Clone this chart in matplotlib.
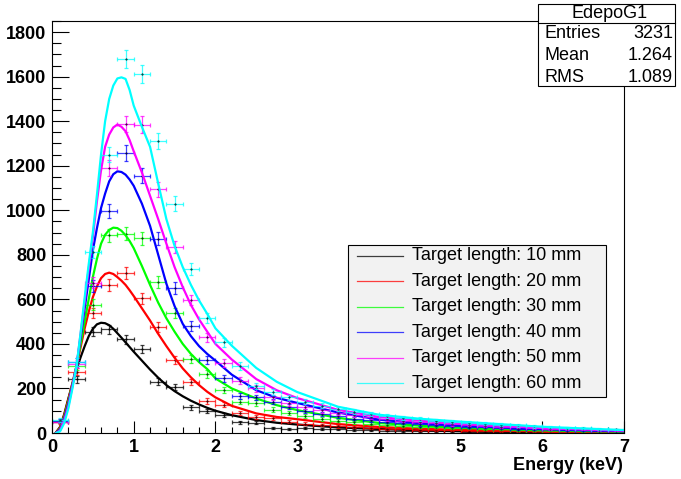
#recreate the ROOT energy deposition plot with matplotlib

import numpy as np
import matplotlib.pyplot as plt
from matplotlib.patches import Rectangle
from matplotlib.lines import Line2D
from matplotlib.ticker import MultipleLocator

plt.rcParams['font.family'] = ['Liberation Sans', 'DejaVu Sans']

W, H = 681, 479

# histogram bin centres (bin width 0.2 keV)
bin_centers = [0.1, 0.3, 0.5, 0.7, 0.9, 1.1, 1.3, 1.5, 1.7, 1.9, 2.1, 2.3, 2.5, 2.7,
               2.9, 3.1, 3.3, 3.5, 3.7, 3.9, 4.1, 4.3, 4.5, 4.7, 4.9, 5.1, 5.3, 5.5,
               5.7, 5.9, 6.1, 6.3, 6.5, 6.7, 6.9]

counts_10mm = [50, 242, 455, 465, 420, 377, 230, 206, 115, 100, 81, 49, 45, 24, 18,
               22, 18, 16, 13, 12, 10, 9, 8, 7, 7, 6, 5, 5, 4, 4, 3, 3, 3, 2, 2]
counts_20mm = [48, 275, 540, 665, 720, 606, 476, 328, 229, 144, 126, 89, 72, 67, 50,
               42, 36, 30, 26, 24, 20, 18, 15, 14, 13, 11, 10, 9, 8, 7, 6, 6, 5, 4, 4]
counts_30mm = [52, 300, 577, 887, 895, 875, 678, 539, 331, 265, 193, 141, 135, 105, 88,
               75, 64, 55, 48, 42, 37, 33, 29, 26, 24, 21, 19, 17, 15, 13, 12, 11, 9, 8, 7]
counts_40mm = [55, 320, 660, 998, 1257, 1155, 873, 651, 480, 328, 246, 165, 160, 140, 118,
               100, 86, 75, 65, 57, 50, 45, 40, 36, 32, 29, 26, 23, 20, 18, 16, 14, 12, 11, 10]
counts_50mm = [50, 310, 675, 1190, 1387, 1385, 1095, 835, 597, 430, 313, 235, 200, 160, 135,
               118, 102, 90, 80, 70, 62, 56, 50, 45, 40, 36, 32, 29, 26, 23, 20, 18, 16, 14, 13]
counts_60mm = [58, 318, 813, 1250, 1680, 1612, 1310, 1030, 735, 515, 408, 301, 212, 185, 160,
               140, 122, 108, 96, 85, 76, 68, 62, 56, 51, 46, 42, 38, 34, 30, 27, 24, 21, 18, 16]

# fitted curves at these energies
fit_x = [0.05, 0.1, 0.15, 0.2, 0.25, 0.3, 0.35, 0.4, 0.45, 0.5, 0.55, 0.6, 0.65, 0.7,
         0.75, 0.8, 0.85, 0.9, 0.95, 1.0, 1.1, 1.2, 1.3, 1.4, 1.5, 1.6, 1.7, 1.8, 1.9,
         2.0, 2.2, 2.5, 2.75, 3.0, 3.5, 4.0, 4.5, 5.0, 6.0, 7.0]
fit_10mm = [3, 28, 85, 155, 220, 285, 340, 390, 435, 468, 488, 495, 493, 484,
            468, 448, 428, 407, 386, 365, 325, 285, 248, 215, 188, 165, 145, 128, 113,
            100, 80, 58, 46, 38, 25, 18, 12, 8, 4, 1]
fit_20mm = [2, 25, 80, 150, 225, 300, 385, 470, 545, 610, 658, 695, 714, 720,
            714, 700, 684, 665, 641, 615, 560, 505, 445, 390, 338, 290, 250, 215, 185,
            160, 122, 88, 72, 62, 40, 27, 19, 14, 7, 3]
fit_30mm = [1, 20, 72, 140, 220, 300, 400, 500, 602, 700, 782, 850, 890, 912,
            922, 920, 908, 888, 862, 830, 750, 665, 585, 515, 455, 400, 355, 318, 287,
            245, 200, 155, 125, 103, 68, 45, 33, 24, 12, 6]
fit_40mm = [1, 16, 65, 130, 215, 300, 430, 560, 690, 820, 920, 1010, 1075, 1130,
            1162, 1175, 1172, 1160, 1138, 1110, 1030, 930, 800, 670, 570, 490, 435, 390, 355,
            325, 262, 192, 158, 135, 92, 60, 44, 33, 17, 8]
fit_50mm = [0, 12, 58, 120, 210, 300, 445, 590, 740, 880, 1040, 1180, 1285, 1340,
            1372, 1385, 1375, 1355, 1315, 1265, 1170, 1065, 960, 850, 745, 655, 575, 510, 455,
            400, 330, 242, 192, 157, 104, 72, 55, 42, 22, 10]
fit_60mm = [0, 8, 45, 110, 200, 300, 450, 610, 760, 900, 1070, 1250, 1400, 1500,
            1560, 1592, 1597, 1590, 1540, 1470, 1375, 1285, 1120, 960, 840, 745, 665, 595, 535,
            470, 392, 292, 230, 184, 118, 82, 64, 51, 28, 13]

labels = ['Target length: 10 mm', 'Target length: 20 mm', 'Target length: 30 mm',
          'Target length: 40 mm', 'Target length: 50 mm', 'Target length: 60 mm']
colors = ['#000000', '#ff0000', '#00ff00', '#0000ff', '#ff00ff', '#00ffff']

all_counts = [counts_10mm, counts_20mm, counts_30mm, counts_40mm, counts_50mm, counts_60mm]
all_fits = [fit_10mm, fit_20mm, fit_30mm, fit_40mm, fit_50mm, fit_60mm]

fig = plt.figure(figsize=(W / 100, H / 100), dpi=100)
ax = fig.add_axes([52 / W, 1 - 433 / H, (624 - 52) / W, (433 - 21) / H])

for counts, fit, col in zip(all_counts, all_fits, colors):
    counts = np.array(counts, dtype=float)
    ax.errorbar(bin_centers, counts, xerr=0.1, yerr=np.sqrt(counts), fmt='none',
                ecolor=col, elinewidth=0.9, capsize=1.6, capthick=0.9, alpha=0.75)
    ax.plot(bin_centers, counts, linestyle='none', marker='.', ms=0.9, color='k')
    ax.plot(fit_x, fit, color=col, lw=1.6, solid_joinstyle='round')

ax.set_xlim(0, 7)
ax.set_ylim(0, 1850)
ax.xaxis.set_major_locator(MultipleLocator(1))
ax.xaxis.set_minor_locator(MultipleLocator(0.2))
ax.yaxis.set_major_locator(MultipleLocator(200))
ax.yaxis.set_minor_locator(MultipleLocator(50))
ax.tick_params(which='both', direction='in', top=False, right=False, width=0.8)
ax.tick_params(axis='x', which='major', length=8.6, pad=4)
ax.tick_params(axis='x', which='minor', length=4.3)
ax.tick_params(axis='y', which='major', length=12, pad=4)
ax.tick_params(axis='y', which='minor', length=6.5)
for lab in ax.get_xticklabels() + ax.get_yticklabels():
    lab.set_fontsize(13)
    lab.set_fontweight('bold')
for sp in ax.spines.values():
    sp.set_linewidth(0.8)

fig.text(623 / W, 1 - 466 / H, 'Energy (keV)', ha='right', va='center',
         fontsize=13, fontweight='bold')

# stats box
def fx(x):
    return x / W

def fy(y):
    return 1 - y / H

fig.add_artist(Rectangle((fx(538), fy(86)), fx(675) - fx(538), fy(4) - fy(86),
                         transform=fig.transFigure, facecolor='white', edgecolor='black', lw=0.8))
fig.add_artist(Line2D([fx(538), fx(675)], [fy(23), fy(23)], transform=fig.transFigure,
                      color='black', lw=0.8))
fig.text(fx(610), fy(13.5), 'EdepoG1', ha='center', va='center', fontsize=13)
stats_names = ['Entries', 'Mean', 'RMS']
stats_values = ['3231', '1.264', '1.089']
for k, (nm, val) in enumerate(zip(stats_names, stats_values)):
    yy = 34 + 21.5 * k
    fig.text(fx(544), fy(yy), nm, ha='left', va='center', fontsize=13)
    fig.text(fx(673), fy(yy), val, ha='right', va='center', fontsize=13)

# legend box
fig.add_artist(Rectangle((fx(348), fy(397)), fx(606) - fx(348), fy(245) - fy(397),
                         transform=fig.transFigure, facecolor='#f2f2f2', edgecolor='black', lw=0.8))
for k, (lab, col) in enumerate(zip(labels, colors)):
    yy = 256 + 25.4 * k
    fig.add_artist(Line2D([fx(357), fx(403)], [fy(yy), fy(yy)], transform=fig.transFigure,
                          color=col, lw=0.9, alpha=0.75))
    fig.text(fx(412), fy(yy), lab, ha='left', va='center', fontsize=13)

fig.savefig('out.png', dpi=100)
